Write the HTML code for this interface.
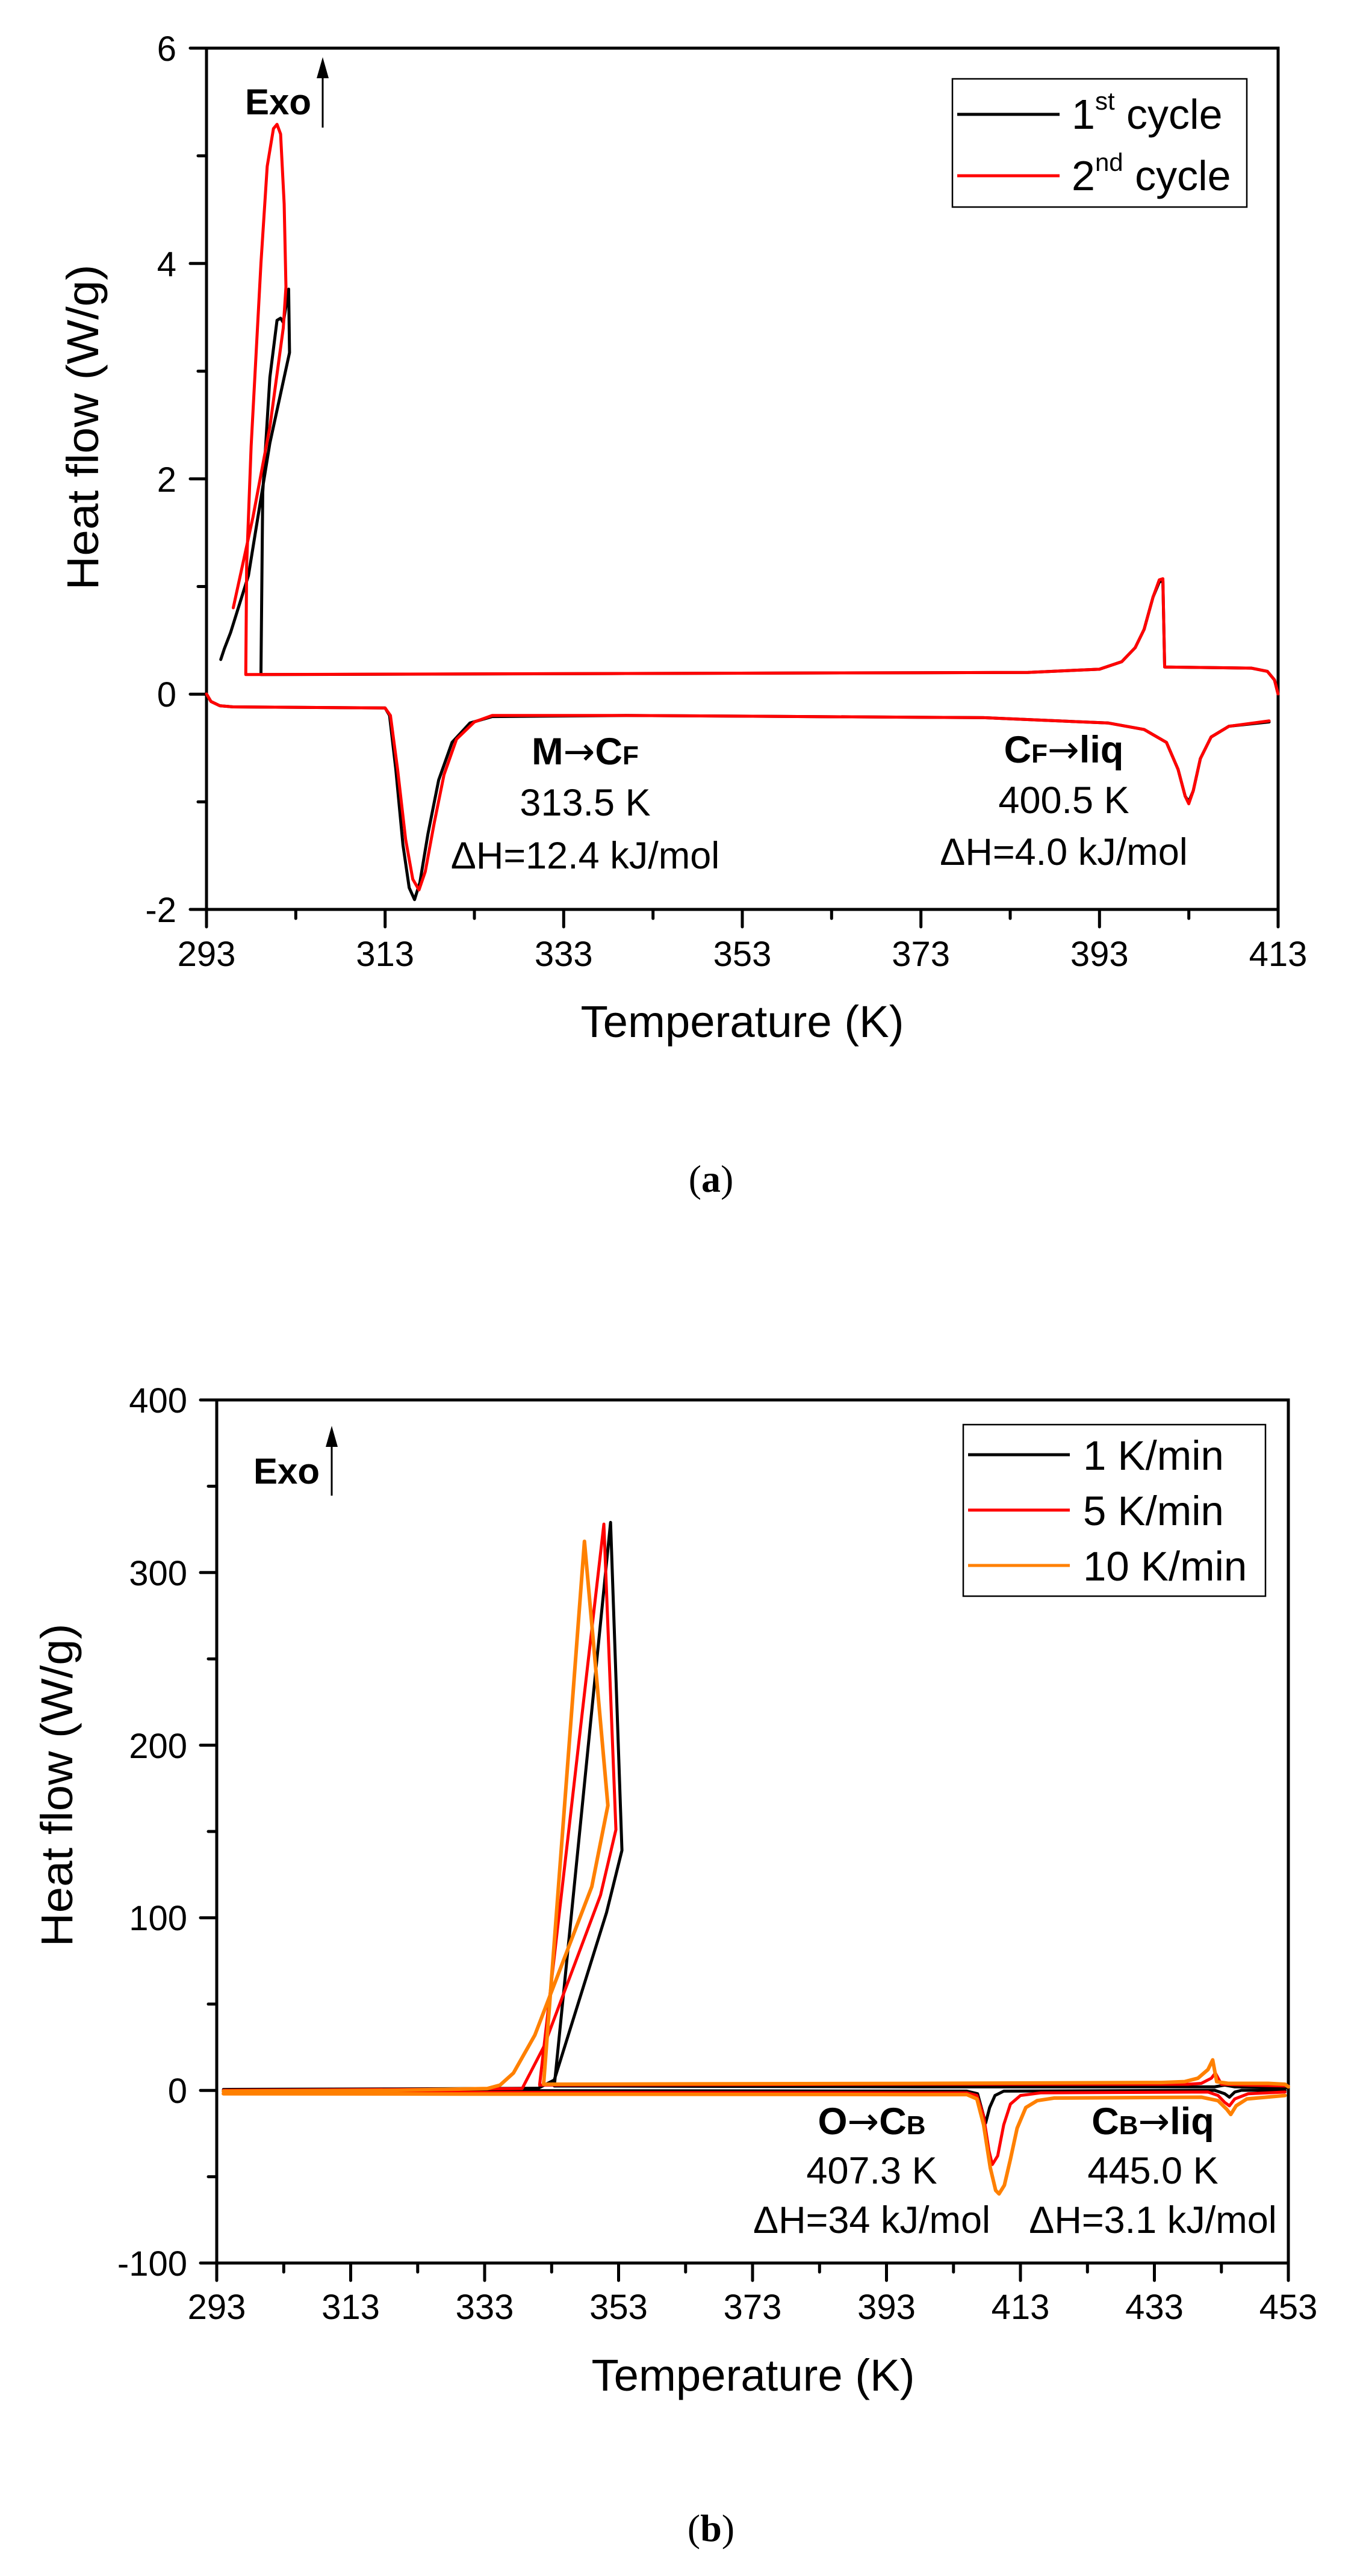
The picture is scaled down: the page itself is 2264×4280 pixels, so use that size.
<!DOCTYPE html>
<html><head><meta charset="utf-8"><style>
html,body{margin:0;padding:0;background:#fff}
svg{display:block}
text{font-family:"Liberation Sans",Arial,sans-serif;fill:#000}
.ar{font-family:"DejaVu Sans",sans-serif;font-weight:normal}
</style></head><body>
<svg width="2264" height="4280" viewBox="0 0 2264 4280" xmlns="http://www.w3.org/2000/svg">
<rect width="2264" height="4280" fill="#fff"/>

<!-- ================= PANEL A ================= -->
<g stroke="#000" stroke-width="5" fill="none" stroke-linecap="round">
  <rect x="343" y="80" width="1780" height="1431"/>
  <path d="M343 1511v29M639.7 1511v29M936.3 1511v29M1233 1511v29M1529.7 1511v29M1826.3 1511v29M2123 1511v29"/>
  <path d="M491.3 1511v15M788 1511v15M1084.7 1511v15M1381.3 1511v15M1678 1511v15M1974.7 1511v15"/>
  <path d="M343 80h-27M343 437.8h-27M343 795.6h-27M343 1153.4h-27M343 1511h-27"/>
  <path d="M343 258.9h-14M343 616.7h-14M343 974.5h-14M343 1332.3h-14"/>
</g>
<g font-size="58" text-anchor="middle">
  <text x="343" y="1605">293</text><text x="639.7" y="1605">313</text><text x="936.3" y="1605">333</text>
  <text x="1233" y="1605">353</text><text x="1529.7" y="1605">373</text><text x="1826.3" y="1605">393</text>
  <text x="2123" y="1605">413</text>
</g>
<g font-size="58" text-anchor="end">
  <text x="293" y="101">6</text><text x="293" y="459">4</text><text x="293" y="817">2</text>
  <text x="293" y="1174">0</text><text x="293" y="1532">-2</text>
</g>
<text x="1233" y="1723" font-size="74" text-anchor="middle" textLength="537" lengthAdjust="spacingAndGlyphs">Temperature (K)</text>
<text transform="translate(163,710) rotate(-90)" font-size="74" text-anchor="middle" textLength="541" lengthAdjust="spacingAndGlyphs">Heat flow (W/g)</text>

<text x="407" y="190" font-size="60" font-weight="bold">Exo</text>
<line x1="536" y1="212" x2="536" y2="120" stroke="#000" stroke-width="3"/>
<polygon points="536,95 526,130 546,130" fill="#000"/>

<g transform="matrix(14.833,0,0,-178.9,-4003.1,1153)" fill="none" stroke-linejoin="round" stroke-linecap="round">
  <path vector-effect="non-scaling-stroke" stroke="#000" stroke-width="5"
   d="M293,0 L293.5,-0.07 L294.5,-0.11 L296,-0.12 L313,-0.13 L313.5,-0.2 L314.2,-0.7 L315,-1.4 L315.7,-1.8 L316.3,-1.91 L316.9,-1.75 L317.8,-1.3 L319,-0.8 L320.5,-0.45 L322.5,-0.27 L325,-0.21 L340,-0.2 L380,-0.22 L394,-0.27 L398,-0.33 L400.5,-0.45 L401.8,-0.7 L402.6,-0.95 L403,-1.0 L403.5,-0.9 L404.3,-0.6 L405.5,-0.4 L407.5,-0.3 L412,-0.26"/>
  <path vector-effect="non-scaling-stroke" stroke="#000" stroke-width="5"
   d="M413,0 L412.6,0.13 L411.8,0.21 L410,0.24 L400.3,0.25 L400.1,1.05 L399.7,1.04 L399,0.9 L398,0.6 L397,0.43 L395.5,0.3 L393,0.23 L385,0.2 L340,0.19 L299.1,0.18 L299.3,1.87 L300.1,2.94 L300.9,3.47 L301.3,3.49 L301.6,3.45 L301.9,3.6 L302.2,3.76 L302.3,3.17 L300.1,2.33 L297.7,1.1 L295.7,0.57 L295.0,0.42 L294.6,0.32"/>
  <path vector-effect="non-scaling-stroke" stroke="#f00" stroke-width="5"
   d="M293,0 L293.5,-0.07 L294.5,-0.11 L296,-0.12 L313,-0.13 L313.6,-0.2 L314.4,-0.7 L315.3,-1.35 L316.1,-1.72 L316.8,-1.82 L317.5,-1.65 L318.5,-1.2 L319.6,-0.75 L321,-0.42 L323,-0.26 L325,-0.2 L340,-0.2 L380,-0.22 L394,-0.27 L398,-0.33 L400.5,-0.45 L401.8,-0.7 L402.6,-0.95 L403,-1.02 L403.5,-0.9 L404.3,-0.6 L405.5,-0.4 L407.5,-0.3 L412,-0.25"/>
  <path vector-effect="non-scaling-stroke" stroke="#f00" stroke-width="5"
   d="M413,0 L412.6,0.13 L411.8,0.21 L410,0.24 L400.3,0.25 L400.1,1.07 L399.7,1.06 L399,0.9 L398,0.6 L397,0.43 L395.5,0.3 L393,0.23 L385,0.2 L340,0.19 L297.4,0.18 L297.5,1.2 L298.0,2.3 L299.1,4.0 L299.8,4.9 L300.5,5.25 L300.9,5.29 L301.3,5.2 L301.7,4.55 L301.9,3.78 L301.6,3.4 L300.1,2.48 L298.2,1.64 L296.0,0.8"/>
</g>

<rect x="1582" y="131" width="489" height="213" fill="#fff" stroke="#000" stroke-width="2.5"/>
<line x1="1590" y1="190" x2="1760" y2="190" stroke="#000" stroke-width="5"/>
<line x1="1590" y1="292" x2="1760" y2="292" stroke="#f00" stroke-width="5"/>
<text x="1780" y="214" font-size="70">1<tspan font-size="42" dy="-32">st</tspan><tspan dy="32"> cycle</tspan></text>
<text x="1780" y="316" font-size="70">2<tspan font-size="42" dy="-32">nd</tspan><tspan dy="32"> cycle</tspan></text>

<g font-size="63" text-anchor="middle">
  <text x="972" y="1270" font-weight="bold">M<tspan class="ar">→</tspan>C<tspan font-size="44">F</tspan></text>
  <text x="972" y="1355">313.5 K</text>
  <text x="972" y="1443">ΔH=12.4 kJ/mol</text>
  <text x="1767" y="1267" font-weight="bold">C<tspan font-size="44">F</tspan><tspan class="ar">→</tspan>liq</text>
  <text x="1767" y="1351">400.5 K</text>
  <text x="1767" y="1437">ΔH=4.0 kJ/mol</text>
</g>
<text x="1181" y="1980" font-size="64" text-anchor="middle" style="font-family:'Liberation Serif',serif">(<tspan font-weight="bold">a</tspan>)</text>

<!-- ================= PANEL B ================= -->
<g stroke="#000" stroke-width="5" fill="none" stroke-linecap="round">
  <rect x="360" y="2326" width="1780" height="1434"/>
  <path d="M360 3760v29M582.5 3760v29M805 3760v29M1027.5 3760v29M1250 3760v29M1472.5 3760v29M1695 3760v29M1917.5 3760v29M2140 3760v29"/>
  <path d="M471.3 3760v15M693.8 3760v15M916.3 3760v15M1138.8 3760v15M1361.3 3760v15M1583.8 3760v15M1806.3 3760v15M2028.8 3760v15"/>
  <path d="M360 2326h-27M360 2612.8h-27M360 2899.6h-27M360 3186.4h-27M360 3473.2h-27M360 3760h-27"/>
  <path d="M360 2469.4h-14M360 2756.2h-14M360 3043h-14M360 3329.8h-14M360 3616.6h-14"/>
</g>
<g font-size="58" text-anchor="middle">
  <text x="360" y="3853">293</text><text x="582.5" y="3853">313</text><text x="805" y="3853">333</text>
  <text x="1027.5" y="3853">353</text><text x="1250" y="3853">373</text><text x="1472.5" y="3853">393</text>
  <text x="1695" y="3853">413</text><text x="1917.5" y="3853">433</text><text x="2140" y="3853">453</text>
</g>
<g font-size="58" text-anchor="end">
  <text x="311" y="2347">400</text><text x="311" y="2634">300</text><text x="311" y="2921">200</text>
  <text x="311" y="3207">100</text><text x="311" y="3494">0</text><text x="311" y="3781">-100</text>
</g>
<text x="1251" y="3972" font-size="74" text-anchor="middle" textLength="537" lengthAdjust="spacingAndGlyphs">Temperature (K)</text>
<text transform="translate(120,2966) rotate(-90)" font-size="74" text-anchor="middle" textLength="537" lengthAdjust="spacingAndGlyphs">Heat flow (W/g)</text>

<text x="421" y="2465" font-size="60" font-weight="bold">Exo</text>
<line x1="551" y1="2485" x2="551" y2="2395" stroke="#000" stroke-width="3"/>
<polygon points="551,2369 541,2404 561,2404" fill="#000"/>

<g transform="matrix(11.125,0,0,-2.868,-2899.6,3473)" fill="none" stroke-linejoin="round" stroke-linecap="round">
  <path vector-effect="non-scaling-stroke" stroke="#000" stroke-width="5"
   d="M294,0 L405,-0.5 L406.6,-2 L407.3,-12 L407.8,-19 L408.4,-10 L409.2,-3 L410.5,-0.5 L442,0 L443.5,-2 L444.2,-4 L445,-1 L446,0 L452.5,0"/>
  <path vector-effect="non-scaling-stroke" stroke="#000" stroke-width="5"
   d="M453,1.5 L445,2 L443.5,3 L442,2 L400,2 L343.4,2.5 L351.8,329 L353.5,139 L351.2,103 L343.4,6 L341,1.2 L320,0.8 L294,0.5"/>
  <path vector-effect="non-scaling-stroke" stroke="#f00" stroke-width="5"
   d="M294,-1 L405,-1.5 L406.5,-3 L407.5,-15 L408.3,-35 L408.8,-43 L409.6,-38 L410.5,-20 L411.5,-8 L413,-3 L416,-1.5 L441,-1 L442.5,-3 L443.5,-7 L444.2,-9 L445,-5 L447,-2 L452.5,-1"/>
  <path vector-effect="non-scaling-stroke" stroke="#f00" stroke-width="5"
   d="M453,2.5 L447,3 L443,3.5 L442.1,10 L441.5,7 L440,4 L438,3.5 L400,3.5 L341.2,3 L350.8,328 L352.6,151 L350.3,113 L341.8,25 L338.6,1 L320,0.5 L294,0"/>
  <path vector-effect="non-scaling-stroke" stroke="#ff8000" stroke-width="6"
   d="M294,-2 L405,-2.5 L406.5,-5 L407.5,-20 L408.5,-45 L409.3,-58 L409.8,-60 L410.6,-55 L411.5,-40 L412.5,-22 L413.8,-10 L415.5,-6 L418,-4.5 L440,-4 L442.5,-6 L443.8,-11 L444.4,-14 L445.2,-9 L446.8,-5 L452.5,-3"/>
  <path vector-effect="non-scaling-stroke" stroke="#ff8000" stroke-width="6"
   d="M453,2 L452.5,3.5 L450,4 L444,4 L442.3,5 L441.7,17.6 L441,12 L439.5,7 L437.5,5 L434,4.5 L400,4 L341.8,3.5 L347.9,318 L351.4,165 L349,118 L340.5,32 L337.3,10 L335.3,3 L333.4,1 L320,0 L294,-0.5"/>
</g>

<rect x="1600" y="2367" width="502" height="285" fill="#fff" stroke="#000" stroke-width="2.5"/>
<line x1="1608" y1="2417" x2="1777" y2="2417" stroke="#000" stroke-width="5"/>
<line x1="1608" y1="2509" x2="1777" y2="2509" stroke="#f00" stroke-width="5"/>
<line x1="1608" y1="2601" x2="1777" y2="2601" stroke="#ff8000" stroke-width="5"/>
<g font-size="69">
  <text x="1799" y="2442">1 K/min</text>
  <text x="1799" y="2534">5 K/min</text>
  <text x="1799" y="2626">10 K/min</text>
</g>

<g font-size="63" text-anchor="middle">
  <text x="1448" y="3546" font-weight="bold">O<tspan class="ar">→</tspan>C<tspan font-size="44">B</tspan></text>
  <text x="1448" y="3628">407.3 K</text>
  <text x="1448" y="3710">ΔH=34 kJ/mol</text>
  <text x="1915" y="3546" font-weight="bold">C<tspan font-size="44">B</tspan><tspan class="ar">→</tspan>liq</text>
  <text x="1915" y="3628">445.0 K</text>
  <text x="1915" y="3710">ΔH=3.1 kJ/mol</text>
</g>
<text x="1181" y="4222" font-size="64" text-anchor="middle" style="font-family:'Liberation Serif',serif">(<tspan font-weight="bold">b</tspan>)</text>
</svg>
</body></html>
